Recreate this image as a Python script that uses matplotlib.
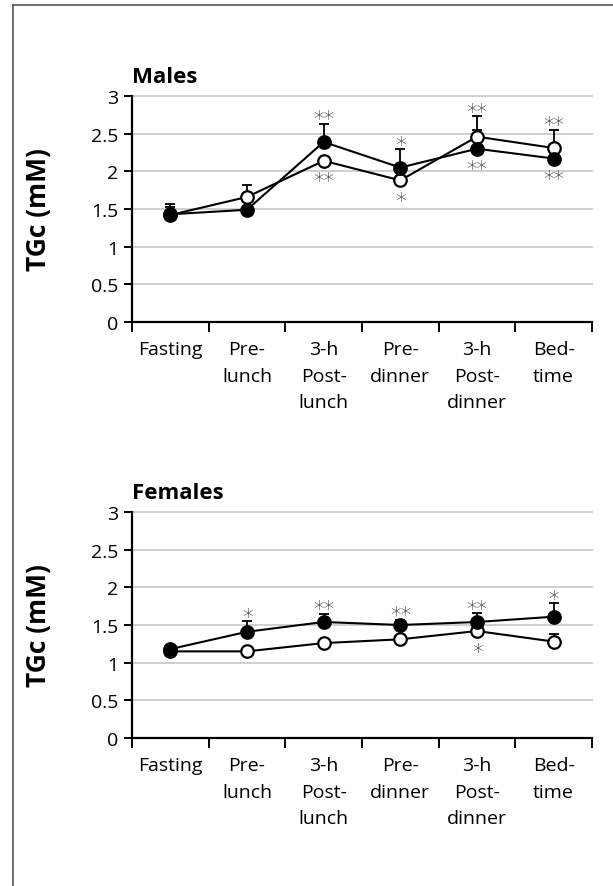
import matplotlib
matplotlib.use("Agg")
import matplotlib.pyplot as plt
from matplotlib.lines import Line2D
import numpy as np

plt.rcParams['font.family'] = ['Open Sans', 'DejaVu Sans']

categories = ["Fasting", "Pre-\nlunch", "3-h\nPost-\nlunch", "Pre-\ndinner", "3-h\nPost-\ndinner", "Bed-\ntime"]
y_ticks = [0, 0.5, 1, 1.5, 2, 2.5, 3]
y_ticklabels = ["0", "0.5", "1", "1.5", "2", "2.5", "3"]

# Males
males_filled = [1.43, 1.49, 2.39, 2.05, 2.30, 2.17]
males_filled_err = [0.13, 0.0, 0.24, 0.24, 0.25, 0.0]
males_open = [1.42, 1.66, 2.14, 1.88, 2.46, 2.31]
males_open_err = [0.10, 0.16, 0.0, 0.0, 0.27, 0.24]
males_stars_above = ["", "", "**", "*", "**", "**"]
males_stars_below = ["", "", "**", "*", "**", "**"]

# Females
females_filled = [1.18, 1.41, 1.54, 1.50, 1.54, 1.61]
females_filled_err = [0.0, 0.14, 0.11, 0.07, 0.12, 0.18]
females_open = [1.15, 1.15, 1.26, 1.31, 1.42, 1.28]
females_open_err = [0.0, 0.0, 0.0, 0.0, 0.0, 0.10]
females_stars_above = ["", "*", "**", "**", "**", "*"]
females_stars_below = ["", "", "", "", "*", ""]

fig = plt.figure(figsize=(6.13, 8.87), dpi=100)

# frame lines (left and top)
fig.add_artist(Line2D([13/613, 13/613], [0, 1 - 6/887], transform=fig.transFigure, color='#555555', lw=1.2))
fig.add_artist(Line2D([13/613, 1], [1 - 6/887, 1 - 6/887], transform=fig.transFigure, color='#555555', lw=1.2))


def panel(rect, title, filled, ferr, opn, oerr, above, below):
    ax = fig.add_axes(rect)
    x = np.arange(len(categories))
    ax.set_xlim(-0.5, len(categories) - 0.5)
    ax.set_ylim(0, 3)
    for yv in y_ticks[1:]:
        ax.axhline(yv, color='#cfcfcf', lw=1.4, zorder=0, clip_on=False)
    ax.errorbar(x, filled, yerr=[np.zeros(len(filled)), ferr], fmt='none', ecolor='black',
                elinewidth=1.3, capsize=3.5, capthick=1.3, zorder=2)
    ax.errorbar(x, opn, yerr=[np.zeros(len(opn)), oerr], fmt='none', ecolor='black',
                elinewidth=1.3, capsize=3.5, capthick=1.3, zorder=2)
    ax.plot(x, opn, '-o', color='black', lw=1.5, ms=9, mfc='white', mec='black', mew=1.6, zorder=3)
    ax.plot(x, filled, '-o', color='black', lw=1.5, ms=9, mfc='black', mec='black', mew=1.6, zorder=4)
    for i in range(len(categories)):
        top = max(filled[i] + ferr[i], opn[i] + oerr[i])
        bot = min(filled[i], opn[i])
        if above[i]:
            ax.annotate(above[i], (x[i], top), xytext=(0, -4), textcoords='offset points',
                        ha='center', va='bottom', fontsize=15, color='#2a2a2a',
                        family='DejaVu Sans', fontweight='light')
        if below[i]:
            ax.annotate(below[i], (x[i], bot), xytext=(0, -22), textcoords='offset points',
                        ha='center', va='bottom', fontsize=15, color='#2a2a2a',
                        family='DejaVu Sans', fontweight='light')
    for s in ['top', 'right']:
        ax.spines[s].set_visible(False)
    for s in ['left', 'bottom']:
        ax.spines[s].set_linewidth(1.6)
        ax.spines[s].set_zorder(5)
    ax.set_yticks(y_ticks)
    ax.set_yticklabels(y_ticklabels, fontsize=14)
    ax.tick_params(axis='y', direction='out', length=6, width=1.4, pad=4)
    ax.set_xticks(np.arange(-0.5, len(categories), 1.0))
    ax.set_xticklabels([])
    ax.tick_params(axis='x', direction='out', length=7, width=1.4)
    ax.set_xticks(x, minor=True)
    ax.set_xticklabels(categories, minor=True, fontsize=14, linespacing=1.62)
    ax.tick_params(axis='x', which='minor', length=0, pad=13)
    ax.set_ylabel("TGc (mM)", fontsize=19, fontweight='bold', labelpad=28)
    ax.text(0.0, 1 + 14/226, title, transform=ax.transAxes, fontsize=16, fontweight='bold',
            ha='left', va='baseline')
    return ax


panel([132/613, 1 - 323/887, 460/613, 226/887], "Males",
      males_filled, males_filled_err, males_open, males_open_err, males_stars_above, males_stars_below)
panel([132/613, 1 - 739/887, 460/613, 226/887], "Females",
      females_filled, females_filled_err, females_open, females_open_err, females_stars_above, females_stars_below)

fig.savefig("out.png", dpi=100)
